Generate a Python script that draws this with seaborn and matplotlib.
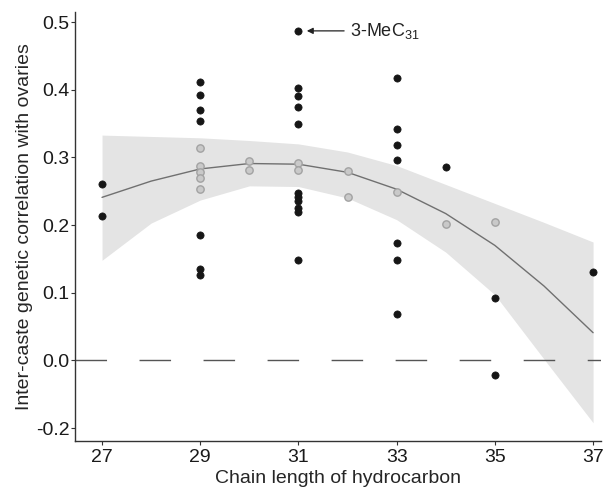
# Chain length vs inter-caste genetic correlation with ovaries

import numpy as np
import pandas as pd
import matplotlib
matplotlib.use("Agg")
import matplotlib.pyplot as plt
import seaborn as sns

# -----------------------------
# DATA
# -----------------------------

black_x = [27, 27,
           29, 29, 29, 29, 29, 29, 29,
           31, 31, 31, 31, 31, 31, 31, 31, 31, 31, 31,
           33, 33, 33, 33, 33, 33, 33,
           34, 35, 35, 37]
black_y = [0.260, 0.214,
           0.411, 0.392, 0.370, 0.354, 0.185, 0.135, 0.126,
           0.487, 0.402, 0.391, 0.374, 0.349, 0.247, 0.241, 0.235, 0.225, 0.219, 0.148,
           0.417, 0.342, 0.318, 0.296, 0.174, 0.149, 0.068,
           0.286, 0.093, -0.021, 0.130]

gray_x = [29, 29, 29, 29, 29, 30, 30, 31, 31, 32, 32, 33, 34, 35]
gray_y = [0.314, 0.288, 0.278, 0.269, 0.253, 0.295, 0.281, 0.292, 0.282,
          0.280, 0.241, 0.249, 0.201, 0.204]

# fitted curve and its confidence band
fit_x = [27, 28, 29, 30, 31, 32, 33, 34, 35, 36, 37]
fit_y = [0.241, 0.265, 0.283, 0.291, 0.290, 0.278, 0.253, 0.217, 0.170, 0.110, 0.041]
band_hi = [0.333, 0.331, 0.329, 0.325, 0.320, 0.308, 0.288, 0.260, 0.232, 0.204, 0.175]
band_lo = [0.148, 0.203, 0.237, 0.258, 0.257, 0.240, 0.208, 0.160, 0.097, 0.002, -0.092]

x_ticks = [27, 29, 31, 33, 35, 37]
y_tick_pos = [-0.1, 0.0, 0.1, 0.2, 0.3, 0.4, 0.5]
y_tick_labels = ["-0.2", "0.0", "0.1", "0.2", "0.3", "0.4", "0.5"]

black_df = pd.DataFrame({"chain": black_x, "corr": black_y})
gray_df = pd.DataFrame({"chain": gray_x, "corr": gray_y})
fit_df = pd.DataFrame({"chain": fit_x, "corr": fit_y, "lo": band_lo, "hi": band_hi})

# -----------------------------
# STYLE
# -----------------------------

sns.set_style("ticks")
plt.rcParams["font.family"] = ["Liberation Sans", "DejaVu Sans"]
plt.rcParams["mathtext.fontset"] = "custom"
plt.rcParams["mathtext.rm"] = "Liberation Sans"
plt.rcParams["mathtext.it"] = "Liberation Sans:italic"

fig = plt.figure(figsize=(6.03, 4.87), dpi=100)
ax = fig.add_axes([0.1244, 0.0945, 0.873, 0.881])

# -----------------------------
# PLOT
# -----------------------------

ax.fill_between(fit_df["chain"], fit_df["lo"], fit_df["hi"],
                color="#e4e4e4", linewidth=0, zorder=1)

ax.axhline(0, color="#555555", linewidth=1.0,
           linestyle=(0, (22.7, 23.4)), zorder=2)

sns.lineplot(data=fit_df, x="chain", y="corr", ax=ax,
             color="#707070", linewidth=1.0, zorder=3)

sns.scatterplot(data=gray_df, x="chain", y="corr", ax=ax,
                color="#c9c9c9", edgecolor="#a2a2a2", linewidth=1.0,
                s=28, zorder=4)

sns.scatterplot(data=black_df, x="chain", y="corr", ax=ax,
                color="#161616", edgecolor="#161616", linewidth=0.5,
                s=27, zorder=5)

ax.annotate("", xy=(31.17, 0.487), xytext=(31.93, 0.487),
            arrowprops=dict(arrowstyle="-|>", color="#222222", lw=0.9,
                            mutation_scale=9, shrinkA=0, shrinkB=0))
ax.text(32.05, 0.487, "3-MeC$_{31}$", fontsize=13, color="#222222",
        va="center", ha="left")

# -----------------------------
# AXES
# -----------------------------

ax.set_xlim(26.45, 37.17)
ax.set_ylim(-0.119, 0.515)
ax.set_xticks(x_ticks)
ax.set_yticks(y_tick_pos)
ax.set_yticklabels(y_tick_labels)

ax.set_xlabel("Chain length of hydrocarbon", fontsize=14, labelpad=3)
ax.set_ylabel("Inter-caste genetic correlation with ovaries", fontsize=14, labelpad=2)

ax.tick_params(axis="both", labelsize=14, length=3, width=0.8, pad=1,
               color="#333333", labelcolor="#1a1a1a")
ax.tick_params(axis="x", pad=3)
for side in ["left", "bottom"]:
    ax.spines[side].set_color("#333333")
    ax.spines[side].set_linewidth(1.0)
sns.despine(ax=ax)

fig.savefig("out.png", dpi=100)
